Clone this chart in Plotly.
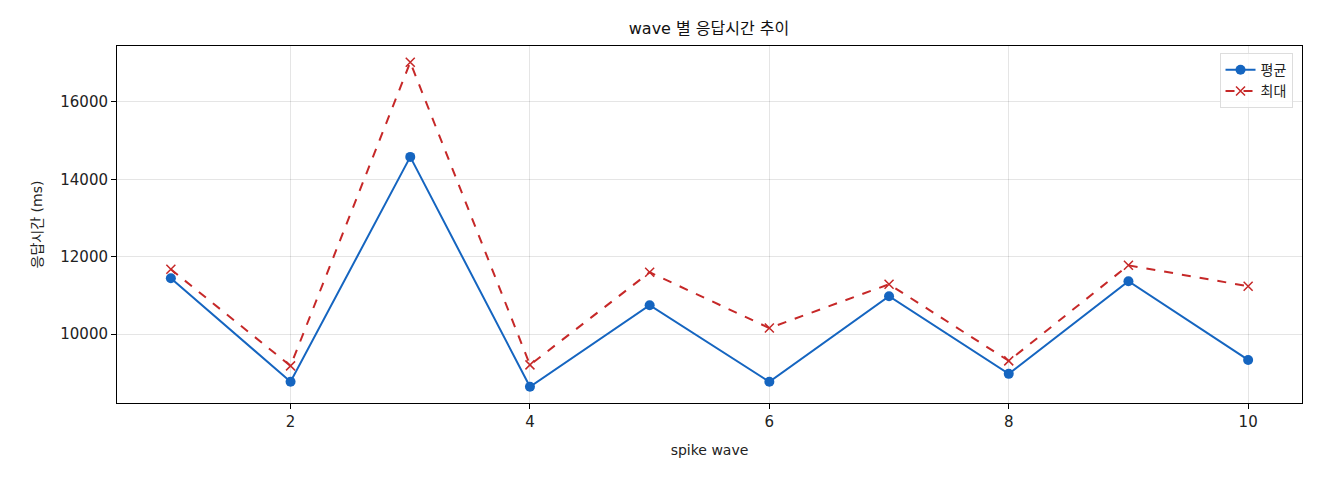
import plotly.graph_objects as go

waves = [1, 2, 3, 4, 5, 6, 7, 8, 9, 10]
avg_ms = [11440, 8765, 14580, 8636, 10745, 8765, 10978, 8970, 11365, 9330]
max_ms = [11673, 9176, 17027, 9202, 11596, 10154, 11287, 9305, 11776, 11236]
y_ticks = [10000, 12000, 14000, 16000]
x_ticks = [2, 4, 6, 8, 10]

FONT = "DejaVu Sans, Noto Sans CJK KR"
fig = go.Figure()
fig.add_trace(go.Scatter(
    x=waves, y=avg_ms, name="평균", mode="lines+markers",
    line=dict(color="#1565C0", width=2),
    marker=dict(symbol="circle", size=10, color="#1565C0"),
))
fig.add_trace(go.Scatter(
    x=waves, y=max_ms, name="최대", mode="lines+markers",
    line=dict(color="#C62828", width=2, dash="dash"),
    marker=dict(symbol="x-thin", size=9, color="#C62828",
                line=dict(color="#C62828", width=1.5)),
))

fig.update_layout(
    width=1320, height=480,
    paper_bgcolor="white", plot_bgcolor="white",
    margin=dict(l=109, r=26, t=38, b=85),
    font=dict(family=FONT, size=13, color="#222"),
    title=dict(text="wave 별 응답시간 추이", x=(709 - 8) / 1320, xanchor="center",
               y=1 - 20 / 480, yanchor="middle", font=dict(size=16, color="#111")),
    showlegend=True,
    legend=dict(x=0.992, xanchor="right", y=0.98, yanchor="top",
                bgcolor="rgba(255,255,255,0.8)", bordercolor="#dddddd", borderwidth=1,
                font=dict(size=14)),
    xaxis=dict(range=[0.55, 10.45], tickvals=x_ticks,
               showgrid=True, gridcolor="rgba(0,0,0,0.1)", gridwidth=1,
               showline=True, linecolor="black", linewidth=1, mirror=True,
               ticks="outside", ticklen=5, tickcolor="black",
               title=dict(text="spike wave", font=dict(size=14), standoff=15),
               zeroline=False, tickfont=dict(size=15)),
    yaxis=dict(range=[8216, 17447], tickvals=y_ticks, tickformat="d",
               showgrid=True, gridcolor="rgba(0,0,0,0.1)", gridwidth=1,
               showline=True, linecolor="black", linewidth=1, mirror=True,
               ticks="outside", ticklen=5, tickcolor="black",
               title=dict(text="응답시간 (ms)", font=dict(size=14), standoff=14),
               zeroline=False, tickfont=dict(size=15)),
)

fig.write_html("out.html")
